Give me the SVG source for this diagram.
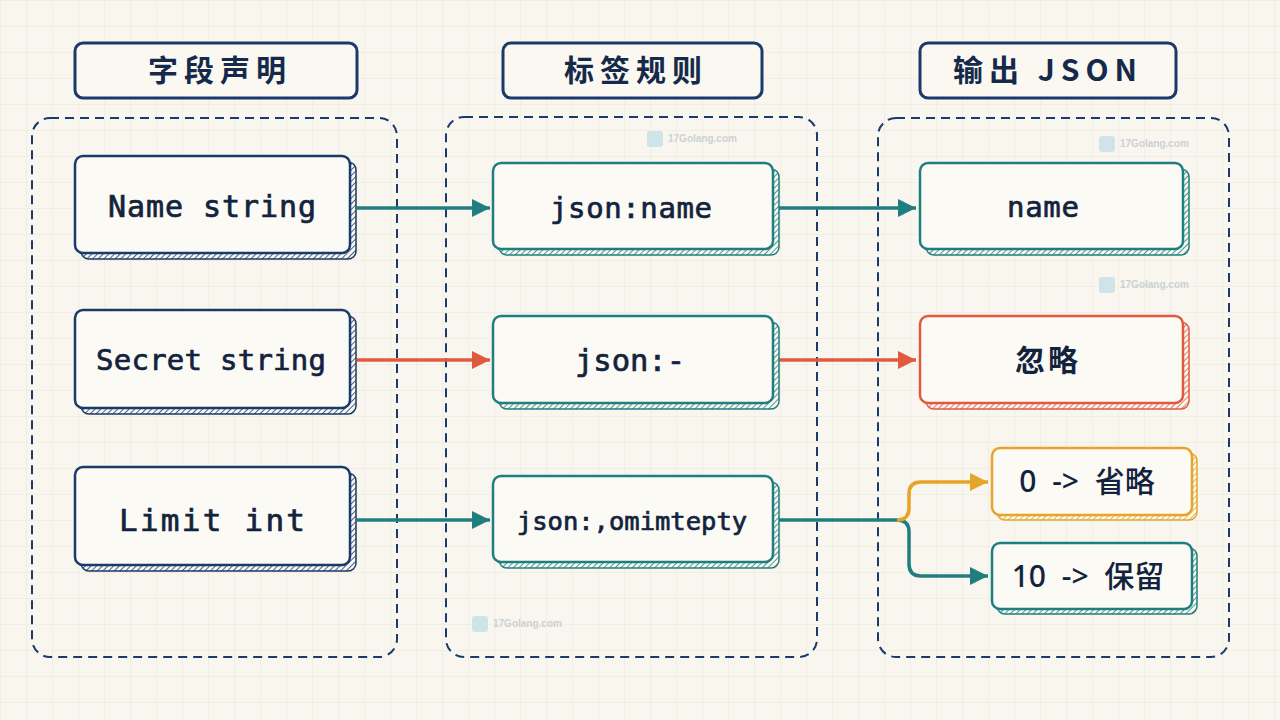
<svg xmlns="http://www.w3.org/2000/svg" width="1280" height="720" viewBox="0 0 1280 720">
<defs>
<pattern id="grid" width="26" height="26" patternUnits="userSpaceOnUse">
<path d="M26 0H0V26" fill="none" stroke="#e9e6dc" stroke-width="1"/>
</pattern>
<pattern id="hNavy" width="4" height="4" patternUnits="userSpaceOnUse" patternTransform="rotate(45)">
<rect width="4" height="4" fill="#faf8f1"/><line x1="0" y1="0" x2="0" y2="4" stroke="#1a3a6b" stroke-width="1.6"/>
</pattern>
<pattern id="hTeal" width="4" height="4" patternUnits="userSpaceOnUse" patternTransform="rotate(45)">
<rect width="4" height="4" fill="#faf8f1"/><line x1="0" y1="0" x2="0" y2="4" stroke="#1f7f80" stroke-width="1.6"/>
</pattern>
<pattern id="hRed" width="4" height="4" patternUnits="userSpaceOnUse" patternTransform="rotate(45)">
<rect width="4" height="4" fill="#faf8f1"/><line x1="0" y1="0" x2="0" y2="4" stroke="#e05a40" stroke-width="1.6"/>
</pattern>
<pattern id="hOrange" width="4" height="4" patternUnits="userSpaceOnUse" patternTransform="rotate(45)">
<rect width="4" height="4" fill="#faf8f1"/><line x1="0" y1="0" x2="0" y2="4" stroke="#e6a42a" stroke-width="1.6"/>
</pattern>
<marker id="aTeal" viewBox="0 0 18 18" refX="18" refY="9" markerWidth="18" markerHeight="18" orient="auto" markerUnits="userSpaceOnUse">
<path d="M0 0 L18 9 L0 18 Z" fill="#1f7f80"/>
</marker>
<marker id="aRed" viewBox="0 0 18 18" refX="18" refY="9" markerWidth="18" markerHeight="18" orient="auto" markerUnits="userSpaceOnUse">
<path d="M0 0 L18 9 L0 18 Z" fill="#e05a40"/>
</marker>
<marker id="aOrange" viewBox="0 0 18 18" refX="18" refY="9" markerWidth="18" markerHeight="18" orient="auto" markerUnits="userSpaceOnUse">
<path d="M0 0 L18 9 L0 18 Z" fill="#e6a42a"/>
</marker>
</defs>
<style>
.hdr{fill:#faf8f1;stroke:#1a3a6b;stroke-width:3}
.hdrT{font-family:"Noto Sans CJK SC","Noto Sans",sans-serif;font-weight:700;font-size:30px;fill:#152a4a;letter-spacing:6px}
.cont{fill:none;stroke:#1a3a6b;stroke-width:2;stroke-dasharray:9 6}
.box{fill:#fbfaf4;stroke-width:2.5}
.mono{font-family:"DejaVu Sans Mono","Liberation Mono",monospace;font-size:29px;fill:#13233d;stroke:#13233d;stroke-width:0.7;font-weight:400}
.sans{font-family:"Noto Sans","Noto Sans CJK SC",sans-serif;font-size:30px;fill:#13233d;font-weight:500;word-spacing:8px}
.cjk{font-family:"Noto Sans CJK SC",sans-serif;font-size:30px;fill:#13233d;font-weight:700;letter-spacing:3px}
.ln{fill:none;stroke-width:3.5}
.wm{font-family:"Liberation Sans",Arial,sans-serif;font-size:10px;font-weight:700;fill:#b9c3c8;opacity:0.7}
</style>
<rect width="1280" height="720" fill="#f8f6ef"/>
<rect width="1280" height="720" fill="url(#grid)"/>

<g id="headers">
<g id="h1"><rect class="hdr" x="75" y="43" width="282" height="55" rx="8"/><text class="hdrT" x="220" y="81" text-anchor="middle">字段声明</text></g>
<g id="h2"><rect class="hdr" x="503" y="43" width="259" height="55" rx="8"/><text class="hdrT" x="636" y="81" text-anchor="middle">标签规则</text></g>
<g id="h3"><rect class="hdr" x="920" y="43" width="256" height="55" rx="8"/><text class="hdrT" x="1048" y="81" text-anchor="middle">输出 JSON</text></g>
</g>

<g id="containers">
<rect class="cont" x="32" y="118" width="365" height="539" rx="18"/>
<rect class="cont" x="446" y="117" width="371" height="540" rx="18"/>
<rect class="cont" x="878" y="118" width="351" height="539" rx="18"/>
</g>

<g id="watermarks">
<g><rect x="144" y="167" width="16" height="16" rx="3" fill="#cfe4e8"/><text class="wm" x="165" y="178">17Golang.com</text></g>
<g><rect x="647" y="131" width="16" height="16" rx="3" fill="#cfe4e8"/><text class="wm" x="668" y="142">17Golang.com</text></g>
<g><rect x="1099" y="136" width="16" height="16" rx="3" fill="#cfe4e8"/><text class="wm" x="1120" y="147">17Golang.com</text></g>
<g><rect x="1099" y="277" width="16" height="16" rx="3" fill="#cfe4e8"/><text class="wm" x="1120" y="288">17Golang.com</text></g>
<g><rect x="672" y="375" width="16" height="16" rx="3" fill="#cfe4e8"/><text class="wm" x="693" y="386">17Golang.com</text></g>
<g><rect x="175" y="379" width="16" height="16" rx="3" fill="#cfe4e8"/><text class="wm" x="196" y="390">17Golang.com</text></g>
<g><rect x="125" y="541" width="16" height="16" rx="3" fill="#cfe4e8"/><text class="wm" x="146" y="552">17Golang.com</text></g>
<g><rect x="472" y="616" width="16" height="16" rx="3" fill="#cfe4e8"/><text class="wm" x="493" y="627">17Golang.com</text></g>
</g>

<g id="connectors">
<path class="ln" stroke="#1f7f80" d="M357 208 H490" marker-end="url(#aTeal)"/>
<path class="ln" stroke="#1f7f80" d="M779 208 H916" marker-end="url(#aTeal)"/>
<path class="ln" stroke="#e05a40" d="M357 360 H490" marker-end="url(#aRed)"/>
<path class="ln" stroke="#e05a40" d="M779 360 H916" marker-end="url(#aRed)"/>
<path class="ln" stroke="#1f7f80" d="M357 520 H490" marker-end="url(#aTeal)"/>
<path class="ln" stroke="#1f7f80" d="M779 520 H897 Q909 520 909 532 V564 Q909 576 921 576 H988" marker-end="url(#aTeal)"/>
<path class="ln" stroke="#e6a42a" d="M897 520 Q909 520 909 508 V494 Q909 482 921 482 H988" marker-end="url(#aOrange)"/>
</g>

<g id="n-name-string">
<rect x="81" y="162" width="275" height="97" rx="8" fill="url(#hNavy)" stroke="#1a3a6b" stroke-width="1.5"/>
<rect class="box" x="75" y="156" width="275" height="97" rx="8" stroke="#1a3a6b"/>
<text class="mono" x="108" y="217" style="font-size:30px" textLength="208">Name string</text>
</g>
<g id="n-secret-string">
<rect x="81" y="316" width="275" height="98" rx="8" fill="url(#hNavy)" stroke="#1a3a6b" stroke-width="1.5"/>
<rect class="box" x="75" y="310" width="275" height="98" rx="8" stroke="#1a3a6b"/>
<text class="mono" x="96" y="370" textLength="230">Secret string</text>
</g>
<g id="n-limit-int">
<rect x="81" y="473" width="275" height="98" rx="8" fill="url(#hNavy)" stroke="#1a3a6b" stroke-width="1.5"/>
<rect class="box" x="75" y="467" width="275" height="98" rx="8" stroke="#1a3a6b"/>
<text class="mono" x="119" y="531" style="font-size:31px" textLength="186">Limit int</text>
</g>

<g id="n-json-name">
<rect x="499" y="169" width="280" height="86" rx="8" fill="url(#hTeal)" stroke="#1f7f80" stroke-width="1.5"/>
<rect class="box" x="493" y="163" width="280" height="86" rx="8" stroke="#1f7f80"/>
<text class="mono" x="550" y="218" textLength="162">json:name</text>
</g>
<g id="n-json-dash">
<rect x="499" y="322" width="280" height="87" rx="8" fill="url(#hTeal)" stroke="#1f7f80" stroke-width="1.5"/>
<rect class="box" x="493" y="316" width="280" height="87" rx="8" stroke="#1f7f80"/>
<text class="mono" x="630" y="371" style="font-size:30.5px" text-anchor="middle">json:-</text>
</g>
<g id="n-json-omit">
<rect x="499" y="482" width="280" height="86" rx="8" fill="url(#hTeal)" stroke="#1f7f80" stroke-width="1.5"/>
<rect class="box" x="493" y="476" width="280" height="86" rx="8" stroke="#1f7f80"/>
<text class="mono" x="632" y="530" style="font-size:25.5px" text-anchor="middle">json:,omimtepty</text>
</g>

<g id="n-out-name">
<rect x="926" y="169" width="263" height="86" rx="8" fill="url(#hTeal)" stroke="#1f7f80" stroke-width="1.5"/>
<rect class="box" x="920" y="163" width="263" height="86" rx="8" stroke="#1f7f80"/>
<text class="mono" x="1007" y="217" textLength="72">name</text>
</g>
<g id="n-ignore">
<rect x="926" y="322" width="263" height="87" rx="8" fill="url(#hRed)" stroke="#e05a40" stroke-width="1.5"/>
<rect class="box" x="920" y="316" width="263" height="87" rx="8" stroke="#e05a40"/>
<text class="cjk" x="1048" y="371" text-anchor="middle">忽略</text>
</g>
<g id="n-omit">
<rect x="997" y="453" width="200" height="67" rx="8" fill="url(#hOrange)" stroke="#e6a42a" stroke-width="1.5"/>
<rect class="box" x="992" y="448" width="200" height="67" rx="8" stroke="#e6a42a"/>
<text class="sans" x="1087" y="492" text-anchor="middle">0 -&gt; 省略</text>
</g>
<g id="n-keep">
<rect x="997" y="548" width="200" height="66" rx="8" fill="url(#hTeal)" stroke="#1f7f80" stroke-width="1.5"/>
<rect class="box" x="992" y="543" width="200" height="66" rx="8" stroke="#1f7f80"/>
<text class="sans" x="1088" y="587" text-anchor="middle">10 -&gt; 保留</text>
</g>
</svg>
